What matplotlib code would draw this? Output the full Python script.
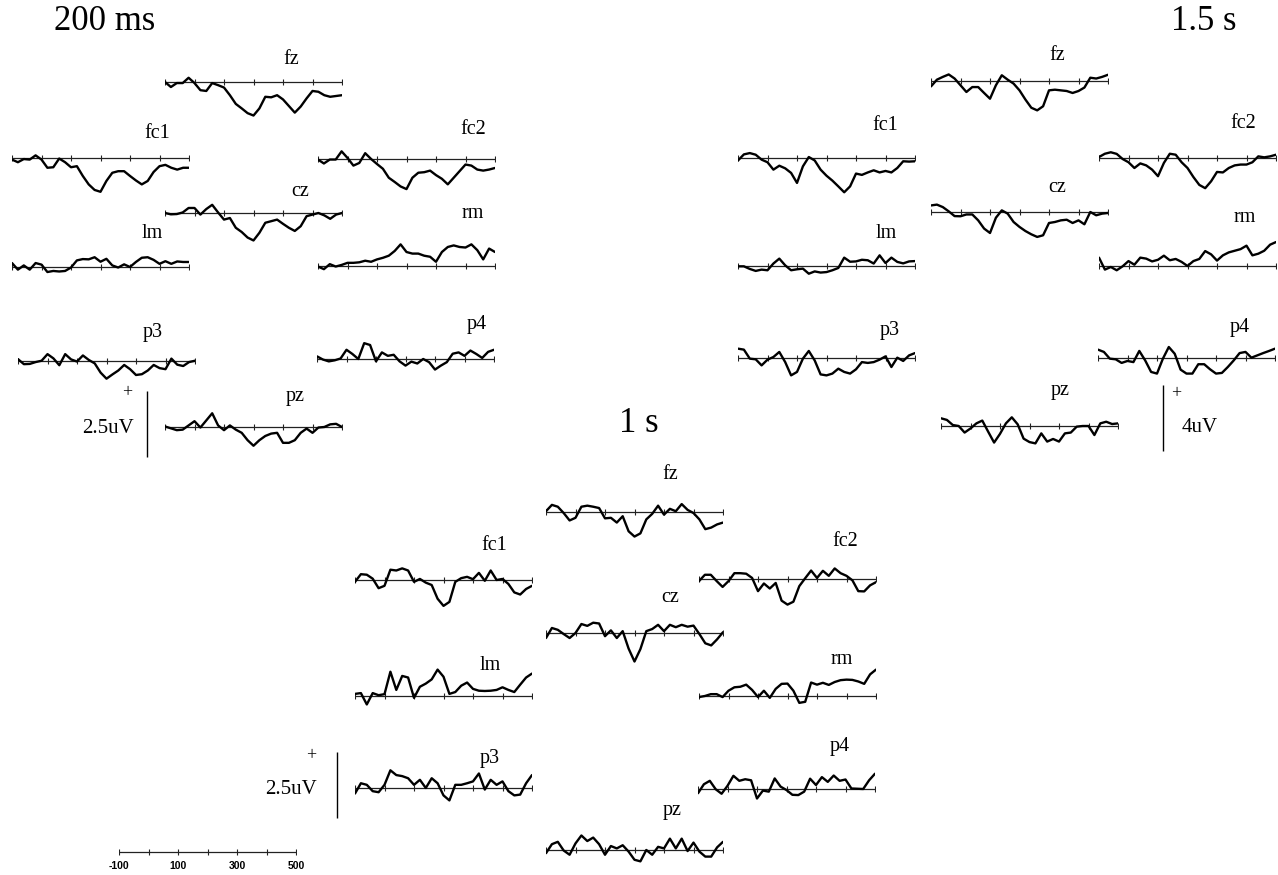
import numpy as np
import matplotlib
matplotlib.use("Agg")
import matplotlib.pyplot as plt

W, H = 1278, 875
SERIF = ["Liberation Serif", "DejaVu Serif"]

# ---------------- data (µV, sampled every 20 ms from -100 to 500 ms) ----------------
t_ms = np.arange(-100, 501, 20)
tick_ms = [-100, 0, 100, 200, 300, 400, 500]
scale_labels_ms = [-100, 100, 300, 500]

# 200 ms condition
fz_200 = [0, -0.19, -0.04, -0.04, 0.16, -0.04, -0.31, -0.34, -0.04, -0.12, -0.21, -0.50, -0.83, -1.00, -1.18, -1.27, -1.00, -0.56, -0.58, -0.50, -0.66, -0.91, -1.16, -0.93, -0.62, -0.34, -0.37, -0.50, -0.56, -0.53, -0.50]
fc1_200 = [-0.06, -0.16, -0.04, -0.06, 0.10, -0.06, -0.37, -0.35, -0.02, -0.16, -0.35, -0.31, -0.68, -1.00, -1.21, -1.28, -0.87, -0.56, -0.50, -0.50, -0.68, -0.85, -1.00, -0.87, -0.53, -0.31, -0.26, -0.37, -0.44, -0.37, -0.37]
fc2_200 = [-0.02, -0.17, -0.02, -0.02, 0.29, 0.04, -0.25, -0.15, 0.22, 0, -0.19, -0.37, -0.71, -0.87, -1.04, -1.14, -0.71, -0.52, -0.50, -0.44, -0.61, -0.75, -0.96, -0.71, -0.46, -0.21, -0.25, -0.40, -0.44, -0.40, -0.34]
cz_200 = [0, -0.05, -0.04, 0.02, 0.19, 0.19, -0.06, 0.15, 0.31, 0.02, -0.25, -0.19, -0.56, -0.72, -0.93, -1.04, -0.75, -0.37, -0.31, -0.25, -0.41, -0.56, -0.68, -0.50, -0.12, -0.06, 0, -0.09, -0.22, -0.06, 0]
lm_200 = [0.15, -0.10, 0.06, -0.10, 0.15, 0.09, -0.19, -0.15, -0.17, -0.15, -0.02, 0.25, 0.30, 0.29, 0.37, 0.20, 0.31, 0.06, -0.02, 0.10, 0, 0.19, 0.35, 0.37, 0.27, 0.12, 0.22, 0.12, 0.21, 0.19, 0.19]
rm_200 = [-0.02, -0.12, 0.07, -0.02, 0.04, 0.12, 0.12, 0.14, 0.20, 0.16, 0.25, 0.31, 0.39, 0.57, 0.82, 0.53, 0.47, 0.47, 0.39, 0.35, 0.16, 0.53, 0.72, 0.78, 0.72, 0.70, 0.82, 0.60, 0.25, 0.66, 0.53]
p3_200 = [0.07, -0.12, -0.11, -0.04, 0.01, 0.26, 0.10, -0.16, 0.26, 0.06, -0.02, 0.21, 0.04, -0.09, -0.44, -0.67, -0.51, -0.36, -0.15, -0.31, -0.53, -0.50, -0.36, -0.15, -0.27, -0.31, 0.09, -0.14, -0.19, -0.04, 0.01]
p4_200 = [0.10, -0.02, -0.09, -0.05, 0.02, 0.35, 0.19, 0, 0.60, 0.53, -0.09, 0.25, 0.12, 0.16, -0.09, -0.25, -0.10, -0.17, 0, -0.12, -0.40, -0.25, -0.12, 0.20, 0.25, 0.12, 0.32, 0.19, 0.04, 0.27, 0.35]
pz_200 = [0.02, -0.05, -0.12, -0.10, 0.06, 0.22, -0.02, 0.25, 0.52, 0.06, -0.12, 0.06, -0.10, -0.22, -0.50, -0.71, -0.50, -0.34, -0.25, -0.22, -0.60, -0.60, -0.50, -0.22, -0.06, -0.22, -0.02, 0, 0.10, 0.12, 0]

# 1.5 s condition
fz_1500 = [-0.33, 0.08, 0.25, 0.40, 0.15, -0.26, -0.67, -0.37, -0.37, -0.73, -1.08, -0.26, 0.35, 0.08, -0.16, -0.57, -1.13, -1.63, -1.79, -1.54, -0.57, -0.53, -0.57, -0.61, -0.73, -0.61, -0.40, 0.20, 0.15, 0.25, 0.38]
fc1_1500 = [-0.15, 0.22, 0.30, 0.20, -0.10, -0.26, -0.71, -0.47, -0.63, -0.91, -1.52, -0.51, 0.06, -0.15, -0.71, -1.08, -1.38, -1.73, -2.09, -1.73, -0.95, -1.03, -0.88, -0.75, -0.88, -0.79, -0.88, -0.61, -0.20, -0.22, -0.20]
fc2_1500 = [0.06, 0.26, 0.35, 0.25, -0.06, -0.26, -0.61, -0.33, -0.45, -0.71, -1.11, -0.30, 0.26, 0.20, -0.26, -0.61, -1.16, -1.64, -1.84, -1.42, -0.85, -0.88, -0.61, -0.45, -0.40, -0.40, -0.26, 0.10, 0.04, 0.10, 0.20]
cz_1500 = [0.40, 0.45, 0.30, 0.04, -0.25, -0.26, -0.15, -0.15, -0.51, -1.01, -1.28, -0.35, 0.10, -0.10, -0.61, -0.91, -1.16, -1.36, -1.52, -1.42, -0.67, -0.61, -0.51, -0.47, -0.67, -0.51, -0.75, 0, -0.20, -0.10, -0.06]
lm_1500 = [-0.02, -0.02, -0.18, -0.30, -0.22, -0.26, 0.15, 0.45, 0.04, -0.26, -0.20, -0.16, -0.47, -0.33, -0.40, -0.37, -0.26, -0.12, 0.51, 0.26, 0.28, 0.38, 0.35, 0.15, 0.65, 0.18, 0.51, 0.25, 0.16, 0.28, 0.30]
rm_1500 = [0.51, -0.22, -0.06, -0.26, -0.02, 0.30, 0.08, 0.51, 0.45, 0.28, 0.38, 0.63, 0.35, 0.43, 0.25, 0, 0.30, 0.43, 0.91, 0.71, 0.33, 0.65, 0.83, 0.93, 1.03, 1.24, 0.65, 0.75, 0.93, 1.30, 1.46]
p3_1500 = [0.57, 0.51, -0.04, -0.08, -0.45, -0.10, 0.06, 0.37, -0.25, -1.06, -0.85, -0.04, 0.43, -0.15, -1.00, -1.06, -0.95, -0.65, -0.85, -0.95, -0.69, -0.25, -0.30, -0.25, -0.10, 0.10, -0.55, 0.02, -0.18, 0.16, 0.30]
p4_1500 = [0.51, 0.37, -0.04, -0.08, -0.30, -0.18, -0.25, 0.43, -0.15, -0.85, -0.95, -0.04, 0.67, 0.26, -0.71, -0.95, -0.95, -0.38, -0.38, -0.69, -0.95, -0.91, -0.55, -0.15, 0.30, 0.37, 0.02, 0.16, 0.30, 0.43, 0.57]
pz_1500 = [0.47, 0.37, 0.06, 0, -0.40, -0.15, 0.16, 0.33, -0.35, -1.01, -0.48, 0.16, 0.53, 0.10, -0.77, -0.98, -1.06, -0.45, -0.95, -0.79, -0.95, -0.45, -0.40, -0.04, 0, 0, -0.55, 0.16, 0.26, 0.12, 0.16]

# 1 s condition
fz_1000 = [0.03, 0.27, 0.20, -0.04, -0.32, -0.22, 0.20, 0.24, 0.20, 0.15, -0.24, -0.22, -0.40, -0.16, -0.73, -0.93, -0.81, -0.28, -0.07, 0.24, -0.10, 0.12, 0.03, 0.30, 0.08, -0.04, -0.28, -0.65, -0.59, -0.47, -0.40]
fc1_1000 = [-0.07, 0.22, 0.20, 0.05, -0.31, -0.22, 0.39, 0.36, 0.44, 0.36, -0.07, 0.04, -0.10, -0.19, -0.71, -0.98, -0.83, -0.07, 0.07, 0.12, 0.03, 0.27, -0.03, 0.36, 0, 0.04, -0.15, -0.47, -0.55, -0.34, -0.22]
fc2_1000 = [-0.08, 0.16, 0.16, -0.08, -0.30, -0.08, 0.22, 0.22, 0.20, 0.04, -0.46, -0.17, -0.36, -0.15, -0.82, -0.97, -0.86, -0.27, 0.03, 0.32, 0.04, 0.31, 0.12, 0.40, 0.22, 0.12, -0.05, -0.46, -0.47, -0.24, -0.12]
cz_1000 = [-0.19, 0.19, 0.12, -0.04, -0.19, 0, 0.34, 0.27, 0.39, 0.36, -0.12, 0.10, -0.19, 0.07, -0.59, -1.08, -0.61, 0.07, 0.15, 0.31, 0.07, 0.31, 0.22, 0.31, 0.24, 0.28, -0.04, -0.39, -0.47, -0.24, 0.03]
lm_1000 = [0.08, 0.11, -0.32, 0.11, 0.03, 0.07, 0.92, 0.23, 0.76, 0.70, -0.07, 0.35, 0.47, 0.63, 1.00, 0.73, 0.08, 0.15, 0.39, 0.51, 0.27, 0.20, 0.19, 0.20, 0.23, 0.33, 0.23, 0.15, 0.43, 0.70, 0.85]
rm_1000 = [-0.04, 0, 0.07, 0.07, -0.04, 0.20, 0.33, 0.35, 0.43, 0.23, -0.04, 0.20, -0.07, 0.27, 0.46, 0.47, 0.20, -0.26, -0.22, 0.51, 0.43, 0.50, 0.42, 0.53, 0.60, 0.62, 0.61, 0.55, 0.46, 0.82, 1.00]
p3_1000 = [-0.21, 0.18, 0.12, -0.12, -0.16, 0.12, 0.67, 0.49, 0.45, 0.37, 0.12, 0.31, 0, 0.37, 0.18, -0.28, -0.47, 0.12, 0.12, 0.18, 0.25, 0.55, -0.06, 0.31, 0.12, 0.25, -0.12, -0.28, -0.25, 0.18, 0.49]
p4_1000 = [-0.16, 0.18, 0.31, -0.01, -0.18, 0.12, 0.50, 0.31, 0.37, 0.33, -0.36, -0.06, -0.10, 0.40, 0.09, -0.04, -0.22, -0.23, -0.10, 0.39, 0.15, 0.45, 0.27, 0.51, 0.31, 0.36, 0.02, 0.01, 0, 0.33, 0.58]
pz_1000 = [-0.12, 0.22, 0.31, -0.02, -0.18, 0.25, 0.55, 0.34, 0.47, 0.22, -0.18, 0.15, 0.06, 0.18, -0.06, -0.37, -0.43, 0, -0.18, 0.12, 0.06, 0.43, 0.06, 0.43, -0.04, 0.28, -0.06, -0.25, -0.25, 0.10, 0.31]

# ---------------- layout (pixel positions) ----------------
panels = [
    dict(title="200 ms", title_xy=(105, 22), px_per_uv=26.4, bar_uv=2.5,
         bar=(147, 457), plus_xy=(127, 393), bar_label="2.5uV", bar_label_xy=(134, 429), bar_ha="right",
         traces=[("fz", fz_200, 165, 82, 291, 59), ("fc1", fc1_200, 12, 158, 157, 133),
                 ("fc2", fc2_200, 318, 159, 473, 130), ("cz", cz_200, 165, 213, 300, 192),
                 ("lm", lm_200, 12, 267, 152, 234), ("rm", rm_200, 318, 266, 473, 214),
                 ("p3", p3_200, 18, 361, 153, 333), ("p4", p4_200, 317, 359, 477, 325),
                 ("pz", pz_200, 165, 427, 295, 397)]),
    dict(title="1.5 s", title_xy=(1204, 22), px_per_uv=16.4, bar_uv=4,
         bar=(1163, 451), plus_xy=(1176, 394), bar_label="4uV", bar_label_xy=(1182, 427), bar_ha="left",
         traces=[("fz", fz_1500, 931, 81, 1057, 55), ("fc1", fc1_1500, 738, 158, 885, 125),
                 ("fc2", fc2_1500, 1099, 158, 1243, 123), ("cz", cz_1500, 931, 212, 1057, 187),
                 ("lm", lm_1500, 738, 266, 886, 233), ("rm", rm_1500, 1099, 266, 1245, 218),
                 ("p3", p3_1500, 738, 358, 890, 330), ("p4", p4_1500, 1098, 358, 1240, 328),
                 ("pz", pz_1500, 941, 426, 1060, 390)]),
    dict(title="1 s", title_xy=(639, 423), px_per_uv=26.4, bar_uv=2.5,
         bar=(337, 818), plus_xy=(311, 756), bar_label="2.5uV", bar_label_xy=(317, 790), bar_ha="right",
         traces=[("fz", fz_1000, 546, 512, 670, 475), ("fc1", fc1_1000, 355, 580, 494, 545),
                 ("fc2", fc2_1000, 699, 579, 845, 542), ("cz", cz_1000, 546, 633, 670, 597),
                 ("lm", lm_1000, 355, 696, 490, 665), ("rm", rm_1000, 699, 696, 842, 660),
                 ("p3", p3_1000, 355, 788, 490, 758), ("p4", p4_1000, 698, 789, 840, 747),
                 ("pz", pz_1000, 546, 850, 672, 810)]),
]
TRACE_W = 177
HALF = 90

fig = plt.figure(figsize=(W / 100, H / 100), dpi=100)
fig.patch.set_facecolor("white")


def fx(x):
    return x / W


def fy(y):
    return 1 - y / H


def make_axes(x0, y_base, px_per_uv, width=TRACE_W, half=HALF):
    ax = fig.add_axes([fx(x0), fy(y_base + half), width / W, 2 * half / H])
    ax.set_xlim(-100, 500)
    ax.set_ylim(-half / px_per_uv, half / px_per_uv)
    ax.axis("off")
    ax.patch.set_visible(False)
    return ax


for p in panels:
    fig.text(fx(p["title_xy"][0]), fy(p["title_xy"][1]), p["title"], ha="center", va="center",
             fontsize=25, family=SERIF)
    for name, vals, x0, yb, lx, ly in p["traces"]:
        ax = make_axes(x0, yb, p["px_per_uv"])
        ax.axhline(0, color="#222222", lw=0.9)
        ax.plot(tick_ms, np.zeros(len(tick_ms)), linestyle="none", marker="|", ms=5, mew=0.8, color="#222222")
        ax.plot(t_ms, vals, color="black", lw=1.7, solid_joinstyle="round", solid_capstyle="round")
        fig.text(fx(lx), fy(ly), name, ha="center", va="center", fontsize=14.5, family=SERIF)
    # amplitude calibration bar
    bx, bb = p["bar"]
    bax = make_axes(bx - 20, bb, p["px_per_uv"], width=40, half=80)
    bax.set_xlim(-1, 1)
    bax.vlines(0, 0, p["bar_uv"], color="black", lw=1.0)
    fig.text(fx(p["plus_xy"][0]), fy(p["plus_xy"][1]), "+", ha="center", va="center", fontsize=13, family=SERIF)
    fig.text(fx(p["bar_label_xy"][0]), fy(p["bar_label_xy"][1]), p["bar_label"], ha=p["bar_ha"], va="center",
             fontsize=15, family=SERIF)

# time calibration bar
sax = make_axes(119, 852, 26.4, width=TRACE_W, half=30)
sax.axhline(0, color="#222222", lw=0.9)
sax.plot(tick_ms, np.zeros(len(tick_ms)), linestyle="none", marker="|", ms=5, mew=0.8, color="#222222")
for v in scale_labels_ms:
    sax.annotate(str(v), xy=(v, 0), xytext=(0, -10), textcoords="offset points", ha="center", va="center",
                 fontsize=7.5, fontweight="bold", family=["Liberation Sans", "DejaVu Sans"])

fig.savefig("out.png", dpi=100, facecolor="white")
